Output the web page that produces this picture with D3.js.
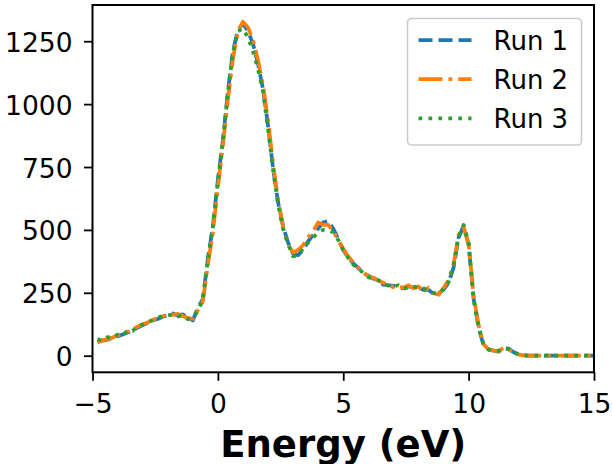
<!DOCTYPE html>
<html>
<head>
<meta charset="utf-8">
<script src="https://cdn.jsdelivr.net/npm/d3@7"></script>
<style>
  body { margin: 0; background: #fff; }
  text { font-family: "DejaVu Sans", sans-serif; fill: #000; }
</style>
</head>
<body>
<svg width="612" height="464"></svg>
<script>
// energy grid (eV), 0.2 eV step
var energy = d3.range(0, 100).map(function(i) { return Math.round((-4.8 + i * 0.2) * 10) / 10; });

var run1 = [55, 60, 64, 70, 76, 84, 92, 100, 112, 122, 130, 140, 146, 155, 162, 168, 160, 164, 152, 140,
  190, 225, 385, 515, 700, 855, 1050, 1210, 1295, 1320, 1290, 1240, 1160, 1060, 915, 745, 610, 515, 450, 405,
  400, 420, 455, 480, 505, 530, 535, 505, 465, 420, 390, 367, 348, 328, 318, 306, 300, 282, 280, 278,
  270, 268, 275, 272, 270, 262, 262, 245, 248, 262, 290, 350, 470, 515, 440, 225, 110, 40, 25, 20,
  16, 30, 28, 14, 5, 1, 0, 0, 0, 0, 0, 0, 0, 0, 0, 0, 0, 0, 0, 0];

var run2 = [52, 62, 66, 72, 80, 88, 96, 104, 116, 125, 132, 142, 150, 156, 165, 162, 166, 158, 150, 146,
  180, 215, 360, 490, 670, 835, 1020, 1180, 1290, 1328, 1305, 1255, 1175, 1075, 935, 765, 620, 510, 440, 410,
  420, 440, 470, 495, 530, 520, 520, 495, 458, 425, 395, 370, 350, 332, 315, 310, 298, 290, 282, 272,
  276, 270, 280, 268, 275, 255, 270, 248, 242, 270, 300, 365, 480, 512, 445, 235, 120, 45, 24, 20,
  18, 32, 25, 12, 4, 1, 0, 0, 0, 0, 0, 0, 0, 0, 0, 0, 0, 0, 0, 0];

var run3 = [66, 60, 74, 70, 84, 80, 100, 98, 118, 124, 135, 140, 152, 158, 160, 164, 156, 160, 145, 155,
  175, 225, 380, 510, 690, 855, 1045, 1205, 1290, 1300, 1265, 1210, 1140, 1050, 900, 740, 600, 505, 445, 395,
  400, 425, 450, 470, 490, 500, 500, 490, 460, 420, 388, 362, 345, 330, 312, 305, 300, 290, 278, 275,
  280, 266, 272, 276, 268, 268, 258, 250, 246, 265, 292, 355, 475, 520, 450, 228, 115, 42, 24, 18,
  20, 30, 26, 13, 5, 1, 0, 0, 0, 0, 0, 0, 0, 0, 0, 0, 0, 0, 0, 0];

var runNames = ["Run 1", "Run 2", "Run 3"];
var colors = ["#1f77b4", "#ff7f0e", "#2ca02c"];
var dashes = ["14,6", "24,6,3.75,6", "3.75,6.2"];
var xTicks = [-5, 0, 5, 10, 15];
var yTicks = [0, 250, 500, 750, 1000, 1250];

// plot box (window.top is read-only, so no plain "top")
var plotLeft = 92.5, plotRight = 594, plotTop = 5, plotBottom = 372.3;

var svg = d3.select("svg");

var x = d3.scaleLinear().domain([-5, 15]).range([plotLeft, plotRight]);
var y = d3.scaleLinear().domain([-66, 1394]).range([plotBottom, plotTop]);

var series = [run1, run2, run3].map(function(vals, i) {
  return { name: runNames[i], color: colors[i], dash: dashes[i],
    points: vals.map(function(v, j) { return [energy[j], v]; }) };
});

var line = d3.line()
  .x(function(d) { return x(d[0]); })
  .y(function(d) { return y(d[1]); });

svg.append("defs").append("clipPath").attr("id", "clip")
  .append("rect")
  .attr("x", plotLeft).attr("y", plotTop)
  .attr("width", plotRight - plotLeft).attr("height", plotBottom - plotTop);

svg.append("g")
  .attr("clip-path", "url(#clip)")
  .selectAll("path")
  .data(series)
  .enter().append("path")
  .attr("d", function(d) { return line(d.points); })
  .attr("fill", "none")
  .attr("stroke", function(d) { return d.color; })
  .attr("stroke-width", 3.75)
  .attr("stroke-dasharray", function(d) { return d.dash; })
  .attr("stroke-linejoin", "round");

// axes
var xAxis = svg.append("g")
  .attr("transform", "translate(0," + plotBottom + ")")
  .call(d3.axisBottom(x).tickValues(xTicks).tickSize(8.5)
    .tickFormat(function(d) { return d < 0 ? "\u2212" + Math.abs(d) : d; }));

var yAxis = svg.append("g")
  .attr("transform", "translate(" + plotLeft + ",0)")
  .call(d3.axisLeft(y).tickValues(yTicks).tickSize(8.5).tickPadding(11.5)
    .tickFormat(d3.format("d")));

[xAxis, yAxis].forEach(function(g) {
  g.select(".domain").remove();
  g.selectAll(".tick line").attr("stroke", "#000").attr("stroke-width", 1.8);
  g.selectAll(".tick text")
    .style("font-family", "DejaVu Sans")
    .style("font-size", "26.5px")
    .attr("fill", "#000");
});
xAxis.selectAll(".tick text").attr("dy", null).attr("y", 41);
yAxis.selectAll(".tick text").attr("dy", null).attr("y", 10);

// frame
svg.append("rect")
  .attr("x", plotLeft).attr("y", plotTop)
  .attr("width", plotRight - plotLeft).attr("height", plotBottom - plotTop)
  .attr("fill", "none")
  .attr("stroke", "#000")
  .attr("stroke-width", 2);

svg.append("text")
  .attr("x", (plotLeft + plotRight) / 2)
  .attr("y", 456.5)
  .attr("text-anchor", "middle")
  .style("font-size", "37px")
  .style("font-weight", "bold")
  .text("Energy (eV)");

// legend
var legend = svg.append("g");
legend.append("rect")
  .attr("x", 407.5).attr("y", 18.5)
  .attr("width", 174).attr("height", 126.5)
  .attr("rx", 4)
  .attr("fill", "#fff").attr("fill-opacity", 0.8)
  .attr("stroke", "#ccc").attr("stroke-width", 1.6);

var item = legend.selectAll("g.item")
  .data(series)
  .enter().append("g")
  .attr("class", "item")
  .attr("transform", function(d, i) { return "translate(0," + (40 + i * 39.2) + ")"; });

item.append("line")
  .attr("x1", 418.5).attr("x2", 471.5)
  .attr("stroke", function(d) { return d.color; })
  .attr("stroke-width", 3.75)
  .attr("stroke-dasharray", function(d) { return d.dash; });

item.append("text")
  .attr("x", 493.5).attr("y", 10)
  .style("font-size", "26px")
  .text(function(d) { return d.name; });
</script>
</body>
</html>
